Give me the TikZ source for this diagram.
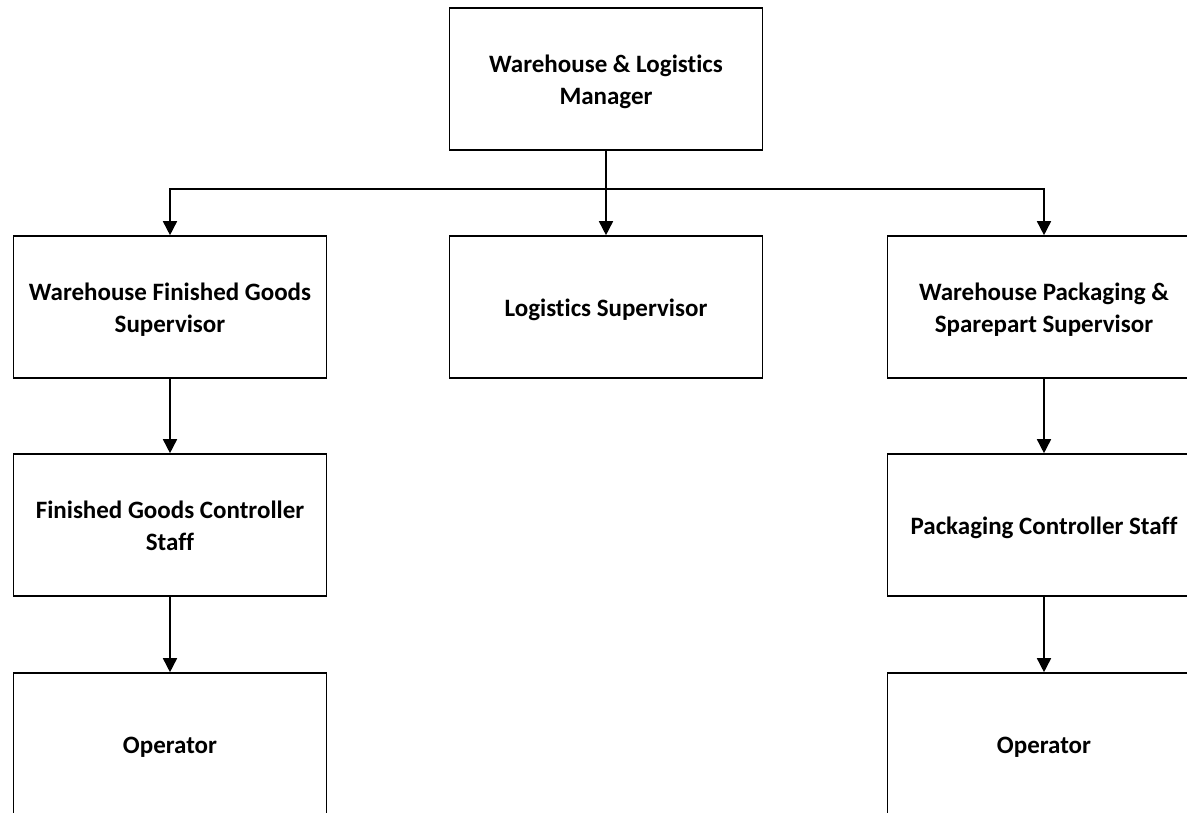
\documentclass[tikz,border=0pt]{standalone}
\usepackage{fontspec}
\setmainfont{Carlito}[Ligatures=NoCommon]
\usetikzlibrary{arrows.meta}
\newcommand{\boxtext}[1]{\raisebox{-3.5pt}[\height][\depth]{\begin{tabular}{@{}c@{}}#1\end{tabular}}}
\begin{document}
\begin{tikzpicture}[x=1pt,y=-1pt,
  box/.style={draw,line width=1.6pt,minimum width=313pt,minimum height=142pt,inner sep=0pt,align=center,font=\fontsize{25}{32}\selectfont\bfseries},
  conn/.style={line width=1.6pt,-{Triangle[length=14pt,width=14pt]}}]
\useasboundingbox (0,0) rectangle (1187,813);
\node[box] (mgr) at (606,79) {\boxtext{Warehouse \& Logistics\\Manager}};
\node[box] (wfg) at (170,307) {\boxtext{Warehouse Finished Goods\\Supervisor}};
\node[box] (ls) at (606,307) {\boxtext{Logistics Supervisor}};
\node[box] (wps) at (1044,307) {\boxtext{Warehouse Packaging \&\\Sparepart Supervisor}};
\node[box] (fgc) at (170,525) {\boxtext{Finished Goods Controller\\Staff}};
\node[box] (pcs) at (1044,525) {\boxtext{Packaging Controller Staff}};
\node[box] (op1) at (170,744) {\boxtext{Operator}};
\node[box] (op2) at (1044,744) {\boxtext{Operator}};
\coordinate (j) at (606,189);
\draw[line width=1.6pt] (mgr.south) -- (j);
\draw[conn] (j) -| (wfg.north);
\draw[conn] (j) -- (ls.north);
\draw[conn] (j) -| (wps.north);
\draw[conn] (wfg) -- (fgc);
\draw[conn] (fgc) -- (op1);
\draw[conn] (wps) -- (pcs);
\draw[conn] (pcs) -- (op2);
\end{tikzpicture}
\end{document}
